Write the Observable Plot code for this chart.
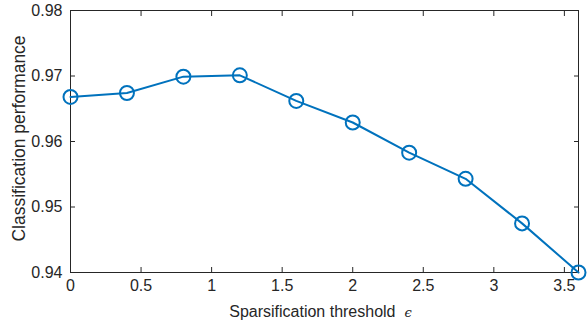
<!DOCTYPE html>
<html>
<head>
<meta charset="utf-8">
<script src="https://cdn.jsdelivr.net/npm/d3@7"></script>
<script src="https://cdn.jsdelivr.net/npm/@observablehq/plot@0.6"></script>
<style>
  body { margin: 0; background: #fff; }
  svg { font-family: "Liberation Sans", Arial, Helvetica, sans-serif; }
</style>
</head>
<body>
<div id="chart"></div>
<script>
const thresholds = [0, 0.4, 0.8, 1.2, 1.6, 2.0, 2.4, 2.8, 3.2, 3.6];
const performance = [0.9668, 0.9674, 0.9699, 0.9701, 0.9662, 0.9629, 0.9583, 0.9543, 0.9475, 0.9400];
const xTicks = [0, 0.5, 1, 1.5, 2, 2.5, 3, 3.5];
const yTicks = [0.94, 0.95, 0.96, 0.97, 0.98];
const xLabel = "Sparsification threshold";
const xSymbol = "ϵ";
const yLabel = "Classification performance";

const data = thresholds.map((t, i) => ({t, p: performance[i]}));
const blue = "#0072BD";
const axisColor = "#262626";
const fmt = d => String(d);

const chart = Plot.plot({
  width: 587,
  height: 325,
  marginLeft: 70,
  marginRight: 9,
  marginTop: 10,
  marginBottom: 53,
  style: {fontSize: "16px", fontFamily: "'Liberation Sans', Arial, sans-serif", color: axisColor, background: "#fff"},
  x: {domain: [0, 3.6]},
  y: {domain: [0.94, 0.98]},
  marks: [
    Plot.frame({stroke: axisColor, strokeWidth: 1}),
    Plot.axisX(xTicks, {anchor: "bottom", tickSize: 0, tickPadding: 7, tickFormat: fmt, label: null, fill: axisColor, fontSize: 16}),
    Plot.axisX(xTicks, {anchor: "bottom", tickSize: -5, tickFormat: () => "", label: null, stroke: axisColor}),
    Plot.axisX(xTicks, {anchor: "top", tickSize: -5, tickFormat: () => "", label: null, stroke: axisColor}),
    Plot.axisY(yTicks, {anchor: "left", tickSize: 0, tickPadding: 8, tickFormat: fmt, label: null, fill: axisColor, fontSize: 16}),
    Plot.axisY(yTicks, {anchor: "left", tickSize: -5, tickFormat: () => "", label: null, stroke: axisColor}),
    Plot.axisY(yTicks, {anchor: "right", tickSize: -5, tickFormat: () => "", label: null, stroke: axisColor}),
    Plot.line(data, {x: "t", y: "p", stroke: blue, strokeWidth: 2}),
    Plot.dot(data, {x: "t", y: "p", r: 7, stroke: blue, strokeWidth: 2, fill: "none", clip: false}),
    Plot.text([xLabel], {frameAnchor: "bottom", dx: -4, dy: 44, text: d => d, fill: axisColor, fontSize: 16}),
    Plot.text([yLabel], {frameAnchor: "left", dx: -51, dy: -3, rotate: -90, textAnchor: "middle", lineAnchor: "middle", text: d => d, fill: axisColor, fontSize: 17.5})
  ]
});
document.getElementById("chart").appendChild(chart);
// add italic epsilon to x label
d3.select(chart).selectAll("text").filter(function() { return this.textContent === xLabel; })
  .each(function() {
    const t = d3.select(this);
    t.append("tspan").attr("dx", 9).attr("font-style", "italic").attr("font-family", "'DejaVu Serif', serif").attr("font-size", 13).text(xSymbol);
  });
</script>
</body>
</html>
